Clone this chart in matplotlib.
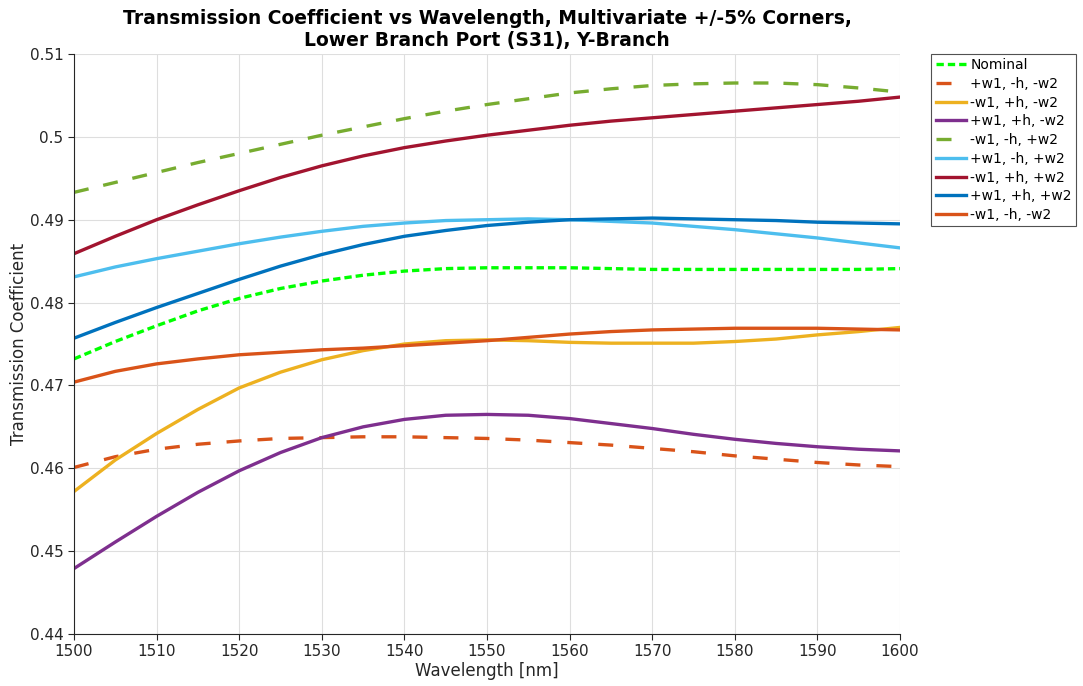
import matplotlib
matplotlib.use("Agg")
import matplotlib.pyplot as plt

# wavelength samples [nm]
wavelength = [1500, 1505, 1510, 1515, 1520, 1525, 1530, 1535, 1540, 1545, 1550,
              1555, 1560, 1565, 1570, 1575, 1580, 1585, 1590, 1595, 1600]

# transmission values
nominal = [0.4732, 0.4753, 0.4772, 0.4790, 0.4805, 0.4817, 0.4826, 0.4833, 0.4838, 0.4841, 0.4842,
           0.4842, 0.4842, 0.4841, 0.4840, 0.4840, 0.4840, 0.4840, 0.4840, 0.4840, 0.4841]
p_w1_m_h_m_w2 = [0.4601, 0.4614, 0.4623, 0.4629, 0.4633, 0.4636, 0.4637, 0.4638, 0.4638, 0.4637, 0.4636,
                 0.4634, 0.4631, 0.4628, 0.4624, 0.4620, 0.4615, 0.4611, 0.4607, 0.4604, 0.4602]
m_w1_p_h_m_w2 = [0.4572, 0.4610, 0.4642, 0.4671, 0.4697, 0.4716, 0.4731, 0.4742, 0.4750, 0.4754, 0.4755,
                 0.4754, 0.4752, 0.4751, 0.4751, 0.4751, 0.4753, 0.4756, 0.4761, 0.4765, 0.4770]
p_w1_p_h_m_w2 = [0.4479, 0.4511, 0.4542, 0.4571, 0.4597, 0.4619, 0.4637, 0.4650, 0.4659, 0.4664, 0.4665,
                 0.4664, 0.4660, 0.4654, 0.4648, 0.4641, 0.4635, 0.4630, 0.4626, 0.4623, 0.4621]
m_w1_m_h_p_w2 = [0.4933, 0.4945, 0.4957, 0.4969, 0.4980, 0.4991, 0.5002, 0.5012, 0.5022, 0.5031, 0.5039,
                 0.5046, 0.5053, 0.5058, 0.5062, 0.5064, 0.5065, 0.5065, 0.5063, 0.5059, 0.5054]
p_w1_m_h_p_w2 = [0.4831, 0.4843, 0.4853, 0.4862, 0.4871, 0.4879, 0.4886, 0.4892, 0.4896, 0.4899, 0.4900,
                 0.4901, 0.4900, 0.4898, 0.4896, 0.4892, 0.4888, 0.4883, 0.4878, 0.4872, 0.4866]
m_w1_p_h_p_w2 = [0.4859, 0.4880, 0.4900, 0.4918, 0.4935, 0.4951, 0.4965, 0.4977, 0.4987, 0.4995, 0.5002,
                 0.5008, 0.5014, 0.5019, 0.5023, 0.5027, 0.5031, 0.5035, 0.5039, 0.5043, 0.5048]
p_w1_p_h_p_w2 = [0.4757, 0.4776, 0.4794, 0.4811, 0.4828, 0.4844, 0.4858, 0.4870, 0.4880, 0.4887, 0.4893,
                 0.4897, 0.4900, 0.4901, 0.4902, 0.4901, 0.4900, 0.4899, 0.4897, 0.4896, 0.4895]
m_w1_m_h_m_w2 = [0.4704, 0.4717, 0.4726, 0.4732, 0.4737, 0.4740, 0.4743, 0.4745, 0.4748, 0.4751, 0.4754,
                 0.4758, 0.4762, 0.4765, 0.4767, 0.4768, 0.4769, 0.4769, 0.4769, 0.4768, 0.4767]

labels = ["Nominal", "+w1, -h, -w2", "-w1, +h, -w2", "+w1, +h, -w2", "-w1, -h, +w2",
          "+w1, -h, +w2", "-w1, +h, +w2", "+w1, +h, +w2", "-w1, -h, -w2"]
series = [nominal, p_w1_m_h_m_w2, m_w1_p_h_m_w2, p_w1_p_h_m_w2, m_w1_m_h_p_w2,
          p_w1_m_h_p_w2, m_w1_p_h_p_w2, p_w1_p_h_p_w2, m_w1_m_h_m_w2]
colors = ["#00FF00", "#D95319", "#EDB120", "#7E2F8E", "#77AC30",
          "#4DBEEE", "#A2142F", "#0072BD", "#D95319"]
styles = [(0, (2.2, 1.2)), (0, (4.5, 4.8)), "-", "-", (0, (4.5, 4.5)), "-", "-", "-", "-"]

fig = plt.figure(figsize=(10.83, 6.86), dpi=100)
ax = fig.add_axes([74/1083, 1 - 634/686, (900-74)/1083, (634-54)/686])

for y, lab, c, ls in zip(series, labels, colors, styles):
    ax.plot(wavelength, y, color=c, linestyle=ls, linewidth=2.4, label=lab)

ax.set_xlim(1500, 1600)
ax.set_ylim(0.44, 0.51)
ax.set_xticks(range(1500, 1601, 10))
ax.set_yticks([0.44, 0.45, 0.46, 0.47, 0.48, 0.49, 0.5, 0.51])
ax.set_yticklabels(["0.44", "0.45", "0.46", "0.47", "0.48", "0.49", "0.5", "0.51"])
ax.grid(True, color="#dedede", linewidth=0.8)
ax.set_axisbelow(True)
for s in ["top", "right"]:
    ax.spines[s].set_visible(False)
for s in ["left", "bottom"]:
    ax.spines[s].set_color("#262626")
ax.tick_params(colors="#262626", labelsize=11, direction="out", length=4)

ax.set_xlabel("Wavelength [nm]", fontsize=12, color="#262626", labelpad=2)
ax.set_ylabel("Transmission Coefficient", fontsize=12, color="#262626", labelpad=1)
ax.set_title("Transmission Coefficient vs Wavelength, Multivariate +/-5% Corners,\n"
             "Lower Branch Port (S31), Y-Branch", fontsize=13.5, fontweight="bold", pad=6)

leg = ax.legend(loc="upper left", bbox_to_anchor=(1.038, 1.0), fontsize=10,
                frameon=True, fancybox=False, edgecolor="#262626",
                borderaxespad=0, handlelength=2.2, labelspacing=0.34,
                borderpad=0.3, handletextpad=0.3)
leg.get_frame().set_linewidth(0.8)

fig.savefig("out.png", dpi=100)
